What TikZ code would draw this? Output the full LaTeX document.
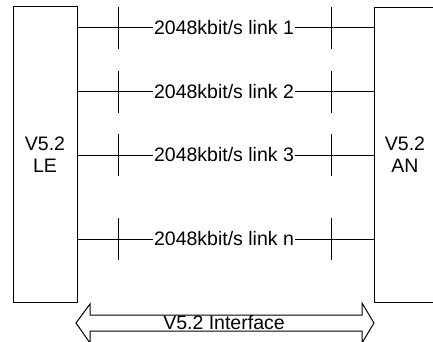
\documentclass[tikz,border=0pt]{standalone}
\usepackage{fontspec}
\setmainfont{Liberation Sans}
\begin{document}
\begin{tikzpicture}[x=1pt,y=-1pt,
  every path/.style={line width=1pt},
  unitbox/.style={draw,line width=1pt,rectangle,inner sep=0pt,align=center,font=\fontsize{19.5}{22}\selectfont},
  linklabel/.style={inner sep=1pt,font=\fontsize{19.5}{22}\selectfont},
  tick/.style={line width=1pt}]
\useasboundingbox (0,0) rectangle (433,342);
\node[unitbox,minimum width=64pt,minimum height=295pt] (LE) at (45,154.5) {V5.2\\LE};
\node[unitbox,minimum width=62pt,minimum height=294pt] (AN) at (405,155) {V5.2\\AN};
\foreach \y/\n/\lab in {28/1/1,92/2/2,155/3/3,239/4/n}{
  \node[linklabel] (L\n) at (224,\y) {2048kbit/s link \lab};
  \draw (LE.east |- L\n.west) -- (L\n.west);
  \draw (L\n.east) -- (AN.west |- L\n.east);
  \draw[tick] (118,\y-21) -- (118,\y+21);
  \draw[tick] (331,\y-21) -- (331,\y+21);
}
\draw[line width=1pt,line join=miter] (76,323) -- (90,304) -- (90,315) -- (362,315) -- (362,303) -- (374,323)
  -- (362,343) -- (362,331) -- (90,331) -- (90,343) -- cycle;
\node[linklabel,anchor=center] (IF) at (224,323) {V5.2 Interface};
\end{tikzpicture}
\end{document}
